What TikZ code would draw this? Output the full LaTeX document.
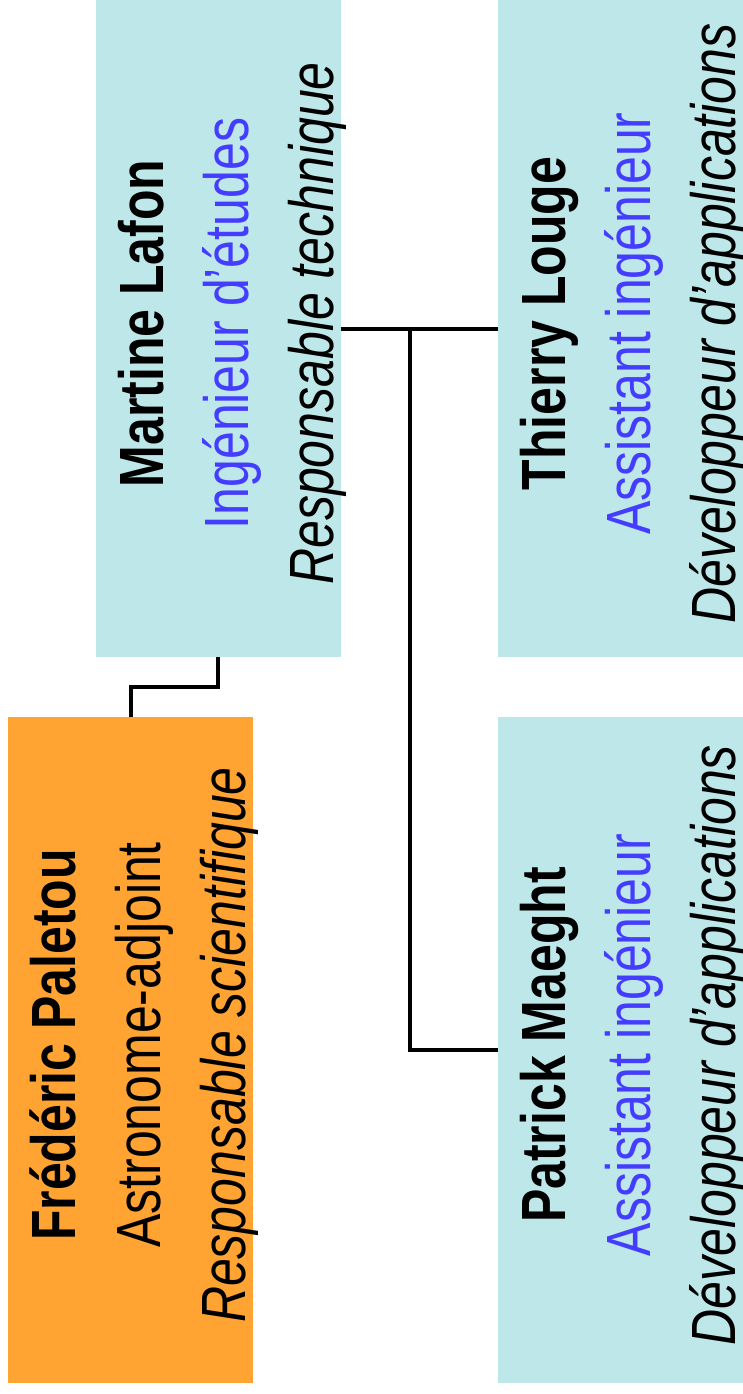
\documentclass[tikz,border=0pt]{standalone}
\usepackage{fontspec}
\setmainfont{Liberation Sans}
\usetikzlibrary{calc}
\definecolor{boxcyan}{RGB}{189,231,232}
\definecolor{boxorange}{RGB}{255,163,51}
\definecolor{roleblue}{RGB}{68,60,255}
\newcommand{\orgtext}[3]{\scalebox{1}[1.25]{\fontsize{50}{68}\selectfont\begin{tabular}{@{}c@{}}\textbf{#1}\\#2\\\itshape #3\end{tabular}}}
\tikzset{
  person/.style={rectangle, inner sep=0pt, minimum width=245pt, minimum height=657pt, fill=boxcyan},
  personlow/.style={person, minimum height=666pt},
  label90/.style={rotate=90, inner sep=0pt, anchor=center},
  link/.style={line width=4pt, black}
}
\begin{document}
\begin{tikzpicture}[x=1pt,y=-1pt]
\useasboundingbox[fill=white] (0,0) rectangle (743,1394);
% boxes
\node[person] (mart) at (218,328.5) {};
\node[person] (thie) at (620.5,328.5) {};
\node[personlow, fill=boxorange] (fred) at (130.5,1050) {};
\node[personlow] (patr) at (620.5,1050) {};
% texts
\node[label90] (martt) at ($(mart.center)+(13,-5)$) {\orgtext{Martine Lafon}{\color{roleblue}Ingénieur d’études}{Responsable technique}};
\node[label90] (thiet) at ($(thie.center)+(13,-5)$) {\orgtext{Thierry Louge}{\color{roleblue}Assistant ingénieur}{Développeur d’applications}};
\node[label90] (fredt) at ($(fred.center)+(13,-5)$) {\orgtext{Frédéric Paletou}{Astronome-adjoint}{Responsable scientifique}};
\node[label90] (patrt) at ($(patr.center)+(13,-5)$) {\orgtext{Patrick Maeght}{\color{roleblue}Assistant ingénieur}{Développeur d’applications}};
% connectors
\draw[link] (mart.south) -- ++(0,30) -| (fred.north);
\draw[link] (mart.east) -- (thie.west);
\coordinate (junc) at ($(mart.east)!0.443!(thie.west)$);
\draw[link] (junc) |- (patr.west);
\end{tikzpicture}
\end{document}
